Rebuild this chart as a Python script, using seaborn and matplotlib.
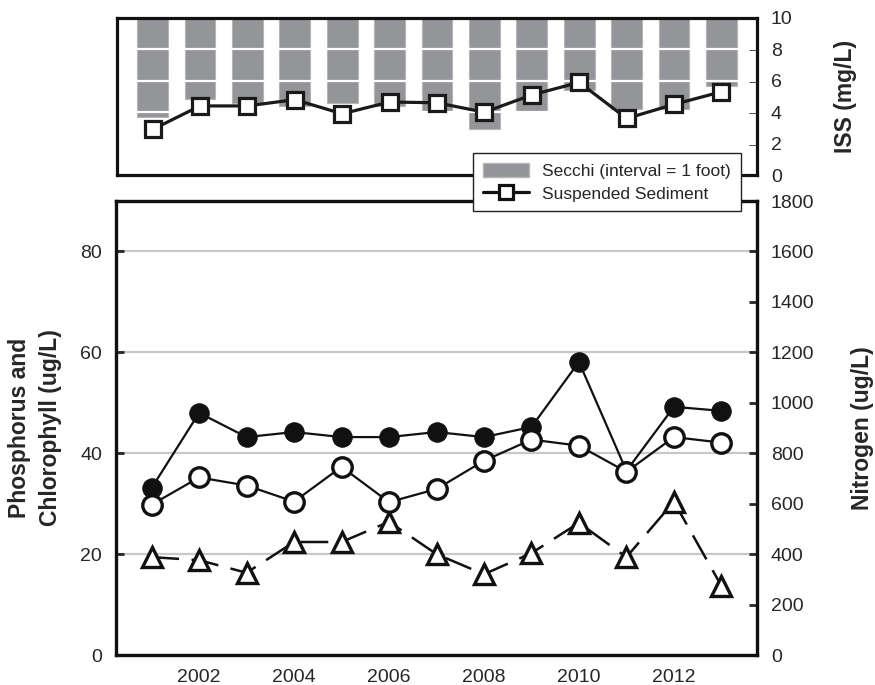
import pandas as pd
import seaborn as sns
import matplotlib.pyplot as plt
from matplotlib.patches import Patch
from matplotlib.lines import Line2D

# values
years = [2001, 2002, 2003, 2004, 2005, 2006, 2007, 2008, 2009, 2010, 2011, 2012, 2013]
secchi_ft = [3.15, 2.58, 2.7, 2.8, 2.7, 2.8, 2.95, 3.55, 2.95, 2.3, 2.9, 2.9, 2.15]
iss = [2.9, 4.4, 4.4, 4.8, 3.9, 4.65, 4.6, 4.0, 5.1, 5.9, 3.6, 4.5, 5.3]
phosphorus = [33.1, 48.0, 43.2, 44.2, 43.2, 43.2, 44.2, 43.2, 45.2, 58.1, 36.5, 49.2, 48.4]
chlorophyll = [19.4, 18.8, 16.3, 22.4, 22.4, 26.4, 20.0, 16.0, 20.2, 26.2, 19.4, 30.4, 13.7]
nitrogen = [596, 704, 672, 608, 746, 606, 658, 770, 854, 830, 726, 864, 842]

left_ticks = [0, 20, 40, 60, 80]
right_ticks = [0, 200, 400, 600, 800, 1000, 1200, 1400, 1600, 1800]
iss_ticks = [0, 2, 4, 6, 8, 10]
year_ticks = [2002, 2004, 2006, 2008, 2010, 2012]

df = pd.DataFrame({"year": years, "secchi": secchi_ft, "iss": iss,
                   "tp": phosphorus, "chl": chlorophyll, "tn": nitrogen})
# secchi bars hang from the top of the ISS axis, 1 foot = 2 axis units
df["secchi_len"] = df["secchi"] * 2
df["secchi_bottom"] = 10 - df["secchi_len"]

sns.set_style("white")
plt.rcParams["font.family"] = ["Liberation Sans", "DejaVu Sans"]

W, H = 875, 685
fig = plt.figure(figsize=(W / 100, H / 100), dpi=100)
ax_top = fig.add_axes([117 / W, 1 - 175 / H, (757 - 117) / W, (175 - 18) / H])
ax = fig.add_axes([116 / W, 1 - 655 / H, (757 - 116) / W, (655 - 201) / H])
ax2 = ax.twinx()

grey = "#939598"
ink = "#111111"
spine_lw = 2.3
tick_fs = 14
label_fs = 16.5

# ---- top panel: secchi + suspended sediment
ax_top.bar(df["year"], df["secchi_len"], bottom=df["secchi_bottom"], width=0.65,
           color=grey, edgecolor="#b5b6b8", linewidth=0.8, zorder=1)
for v in [2, 4, 6, 8]:
    ax_top.axhline(v, color="white", lw=1.6, zorder=2)
sns.lineplot(data=df, x="year", y="iss", ax=ax_top, color="#1a1a1a", lw=2.3,
             marker="s", markersize=11.5, markerfacecolor="white",
             markeredgecolor="#1a1a1a", markeredgewidth=2.3, zorder=3)
ax_top.set_xlim(2000.25, 2013.75)
ax_top.set_ylim(0, 10)
ax_top.yaxis.tick_right()
ax_top.yaxis.set_label_position("right")
ax_top.set_yticks(iss_ticks)
ax_top.set_xticks([])
ax_top.set_xlabel("")
ax_top.set_ylabel("ISS (mg/L)", fontsize=label_fs, fontweight="bold", labelpad=30)
ax_top.tick_params(axis="y", direction="in", length=6, width=2,
                   labelsize=tick_fs, pad=10, right=True, left=False)

# ---- bottom panel: phosphorus, chlorophyll, nitrogen
for v in [20, 40, 60, 80]:
    ax.axhline(v, color="#c8c8c8", lw=1.6, zorder=0)
sns.lineplot(data=df, x="year", y="tp", ax=ax, color=ink, lw=1.6,
             marker="o", markersize=14, markerfacecolor=ink,
             markeredgecolor=ink, zorder=3)
sns.lineplot(data=df, x="year", y="chl", ax=ax, color=ink, lw=1.8,
             linestyle=(0, (11, 5)), marker="^", markersize=14.5,
             markerfacecolor="white", markeredgecolor=ink,
             markeredgewidth=2.4, zorder=3)
sns.lineplot(data=df, x="year", y="tn", ax=ax2, color=ink, lw=1.6,
             marker="o", markersize=14, markerfacecolor="white",
             markeredgecolor=ink, markeredgewidth=2.4, zorder=3)

ax.set_xlim(2000.25, 2013.75)
ax.set_ylim(0, 90)
ax2.set_ylim(0, 1800)
ax.set_xticks(year_ticks)
ax.set_xticklabels([str(y) for y in year_ticks])
ax.set_yticks(left_ticks)
ax2.set_yticks(right_ticks)
ax.set_xlabel("")
ax.set_ylabel("Phosphorus and\nChlorophyll (ug/L)", fontsize=label_fs,
              fontweight="bold", labelpad=13, linespacing=1.45)
ax2.set_ylabel("Nitrogen (ug/L)", fontsize=label_fs, fontweight="bold",
               labelpad=26)
ax.tick_params(axis="x", direction="in", length=6, width=2,
               labelsize=tick_fs, pad=10)
ax.tick_params(axis="y", direction="in", length=6, width=2,
               labelsize=tick_fs, pad=10)
ax2.tick_params(axis="y", direction="in", length=6, width=2,
                labelsize=tick_fs, pad=10)

for a in [ax_top, ax, ax2]:
    for s in a.spines.values():
        s.set_linewidth(spine_lw)
        s.set_color(ink)
        s.set_visible(True)

handles = [Patch(facecolor=grey, edgecolor="#b5b6b8"),
           Line2D([], [], color=ink, lw=2.3, marker="s", markersize=10.5,
                  markerfacecolor="white", markeredgewidth=2.3)]
leg = fig.legend(handles, ["Secchi (interval = 1 foot)", "Suspended Sediment"],
                 loc="upper left", bbox_to_anchor=(473 / W, 1 - 153 / H),
                 borderaxespad=0, fontsize=12.5, frameon=True, fancybox=False,
                 framealpha=1, edgecolor="#222222", borderpad=0.55,
                 handlelength=2.7, handleheight=0.9, handletextpad=0.75,
                 labelspacing=0.4)
leg.get_frame().set_linewidth(1.0)

fig.savefig("out.png", dpi=100)
